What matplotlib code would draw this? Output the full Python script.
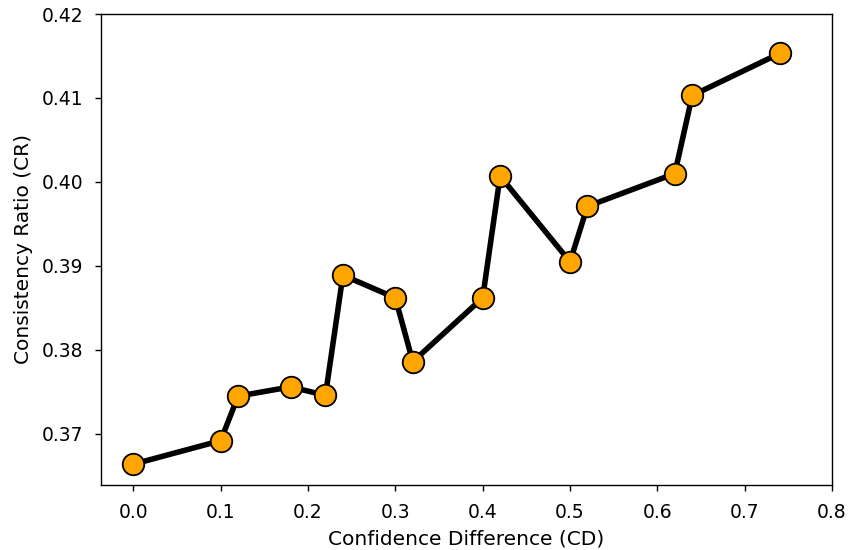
import matplotlib
matplotlib.use("Agg")
import matplotlib.pyplot as plt

cd = [0.0, 0.10, 0.12, 0.18, 0.22, 0.24, 0.30, 0.32, 0.40, 0.42, 0.50, 0.52, 0.62, 0.64, 0.74]
cr = [0.3664, 0.3692, 0.3745, 0.3756, 0.3746, 0.3889, 0.3862, 0.3786, 0.3862,
      0.4007, 0.3905, 0.3971, 0.4010, 0.4103, 0.4153]

fig = plt.figure(figsize=(8.51, 5.5), dpi=100)
ax = fig.add_axes([101/851, 1 - 485/550, (832-101)/851, (485-14)/550])
ax.plot(cd, cr, color='black', linewidth=4.0, marker='o', markersize=15.5,
        markerfacecolor='#FFA500', markeredgecolor='black', markeredgewidth=1.3)
ax.set_xlim(-0.037, 0.8)
ax.set_ylim(0.36392, 0.42)
ax.set_xticks([0.0, 0.1, 0.2, 0.3, 0.4, 0.5, 0.6, 0.7, 0.8])
ax.set_yticks([0.37, 0.38, 0.39, 0.40, 0.41, 0.42])
ax.set_yticklabels(['0.37', '0.38', '0.39', '0.40', '0.41', '0.42'])
ax.tick_params(labelsize=13.5, length=4.5, width=1.0, pad=8.5)
for s in ax.spines.values():
    s.set_linewidth(1.0)
ax.set_xlabel('Confidence Difference (CD)', fontsize=14.5, labelpad=5.5)
ax.set_ylabel('Consistency Ratio (CR)', fontsize=14.5, labelpad=6)
fig.savefig('out.png', dpi=100)
